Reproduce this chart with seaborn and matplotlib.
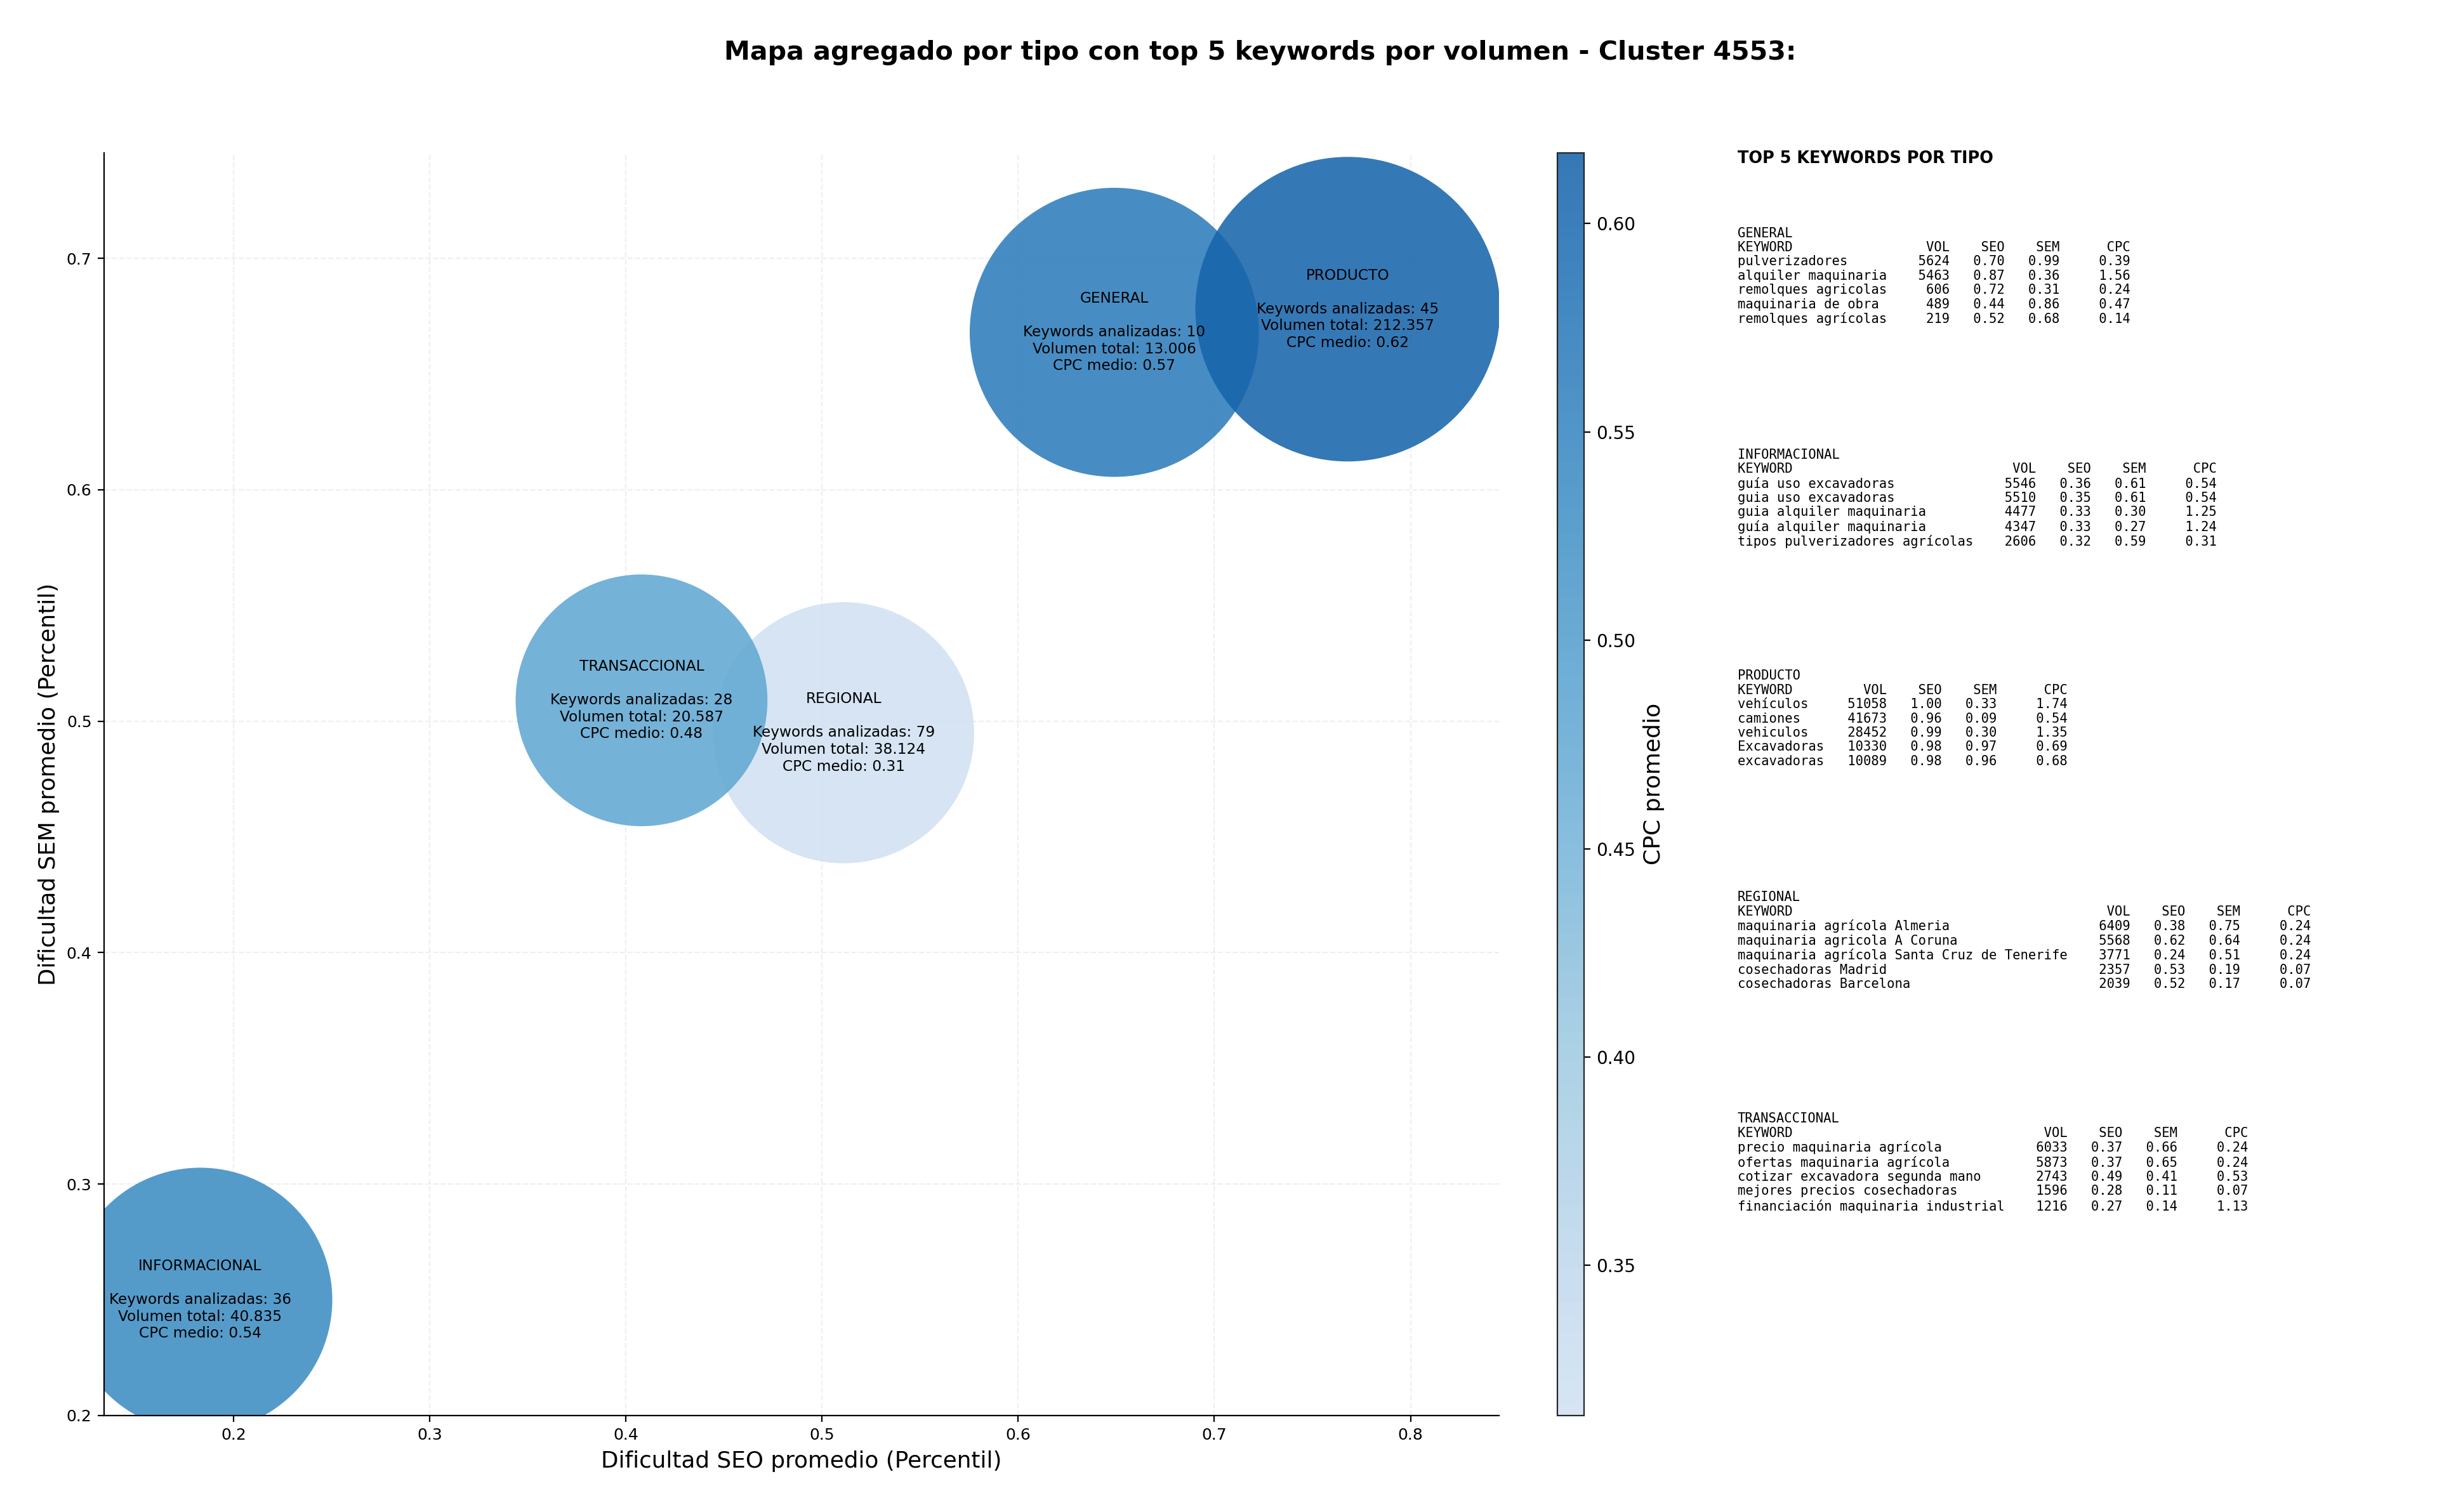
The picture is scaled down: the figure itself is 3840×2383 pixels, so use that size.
import numpy as np
import pandas as pd
import matplotlib
matplotlib.use("Agg")
import matplotlib.pyplot as plt
import matplotlib.colors as mcolors
import seaborn as sns

# aggregated values per keyword type
tipos = ["GENERAL", "INFORMACIONAL", "PRODUCTO", "REGIONAL", "TRANSACCIONAL"]
seo_mean = [0.649, 0.183, 0.768, 0.511, 0.408]
sem_mean = [0.668, 0.250, 0.678, 0.495, 0.509]
cpc_mean = [0.57, 0.54, 0.617, 0.314, 0.48]
n_keywords = [10, 36, 45, 79, 28]
vol_total = [13006, 40835, 212357, 38124, 20587]

# top 5 keywords per type: keyword, vol, seo, sem, cpc
top_general = [
    ("pulverizadores", 5624, 0.70, 0.99, 0.39),
    ("alquiler maquinaria", 5463, 0.87, 0.36, 1.56),
    ("remolques agricolas", 606, 0.72, 0.31, 0.24),
    ("maquinaria de obra", 489, 0.44, 0.86, 0.47),
    ("remolques agrícolas", 219, 0.52, 0.68, 0.14),
]
top_informacional = [
    ("guía uso excavadoras", 5546, 0.36, 0.61, 0.54),
    ("guia uso excavadoras", 5510, 0.35, 0.61, 0.54),
    ("guia alquiler maquinaria", 4477, 0.33, 0.30, 1.25),
    ("guía alquiler maquinaria", 4347, 0.33, 0.27, 1.24),
    ("tipos pulverizadores agrícolas", 2606, 0.32, 0.59, 0.31),
]
top_producto = [
    ("vehículos", 51058, 1.00, 0.33, 1.74),
    ("camiones", 41673, 0.96, 0.09, 0.54),
    ("vehiculos", 28452, 0.99, 0.30, 1.35),
    ("Excavadoras", 10330, 0.98, 0.97, 0.69),
    ("excavadoras", 10089, 0.98, 0.96, 0.68),
]
top_regional = [
    ("maquinaria agrícola Almeria", 6409, 0.38, 0.75, 0.24),
    ("maquinaria agricola A Coruna", 5568, 0.62, 0.64, 0.24),
    ("maquinaria agrícola Santa Cruz de Tenerife", 3771, 0.24, 0.51, 0.24),
    ("cosechadoras Madrid", 2357, 0.53, 0.19, 0.07),
    ("cosechadoras Barcelona", 2039, 0.52, 0.17, 0.07),
]
top_transaccional = [
    ("precio maquinaria agrícola", 6033, 0.37, 0.66, 0.24),
    ("ofertas maquinaria agrícola", 5873, 0.37, 0.65, 0.24),
    ("cotizar excavadora segunda mano", 2743, 0.49, 0.41, 0.53),
    ("mejores precios cosechadoras", 1596, 0.28, 0.11, 0.07),
    ("financiación maquinaria industrial", 1216, 0.27, 0.14, 1.13),
]

# bubble areas (points^2)
bubble_s = {"GENERAL": 26900, "INFORMACIONAL": 22470, "PRODUCTO": 29860,
            "REGIONAL": 21940, "TRANSACCIONAL": 20400}


def fmt_vol(v):
    return f"{v:,}".replace(",", ".")


def keyword_block(name, rows):
    w = max(len(r[0]) for r in rows)
    lines = [name, f"{'KEYWORD':<{w}}  {'VOL':>6} {'SEO':>6} {'SEM':>6} {'CPC':>8}"]
    for kw, vol, seo, sem, cpc in rows:
        lines.append(f"{kw:<{w}}  {vol:>6} {seo:>6.2f} {sem:>6.2f} {cpc:>8.2f}")
    return "\n".join(lines)


def main():
    df = pd.DataFrame({"tipo": tipos, "seo": seo_mean, "sem": sem_mean,
                       "cpc": cpc_mean, "n": n_keywords, "vol": vol_total})

    sns.set_style("white")
    plt.rcParams["font.family"] = ["DejaVu Sans"]
    plt.rcParams["text.color"] = "black"
    plt.rcParams["axes.labelcolor"] = "black"
    plt.rcParams["xtick.color"] = "black"
    plt.rcParams["ytick.color"] = "black"

    cmap = mcolors.LinearSegmentedColormap.from_list(
        "blues_cut", plt.get_cmap("Blues")(np.linspace(0.2, 0.8, 256)))
    vmin, vmax = df.cpc.min(), df.cpc.max()

    fig = plt.figure(figsize=(19.2, 11.915), dpi=200)
    ax = fig.add_axes([0.0427, 0.0638, 0.5723, 0.8352])
    cax = fig.add_axes([0.639, 0.0638, 0.011, 0.8352])

    sns.scatterplot(data=df, x="seo", y="sem", hue="cpc", palette=cmap,
                    hue_norm=(vmin, vmax), size="tipo", sizes=bubble_s,
                    alpha=0.87, linewidth=0, legend=False, ax=ax)

    for _, r in df.iterrows():
        txt = (f"{r['tipo']}\n\nKeywords analizadas: {r['n']}\n"
               f"Volumen total: {fmt_vol(r['vol'])}\nCPC medio: {r['cpc']:.2f}")
        ax.text(r["seo"], r["sem"], txt, ha="center", va="center", fontsize=8.4)

    ax.set_xlim(0.134, 0.845)
    ax.set_ylim(0.2, 0.7456)
    ax.set_xlabel("Dificultad SEO promedio (Percentil)", fontsize=12.9)
    ax.set_ylabel("Dificultad SEM promedio (Percentil)", fontsize=12.9)
    ax.tick_params(labelsize=9, length=3.5, width=0.8, bottom=True, left=True)
    ax.grid(True, linestyle="--", alpha=0.3)
    for sp in ax.spines.values():
        sp.set_color("black")
        sp.set_linewidth(0.8)
    sns.despine(ax=ax)

    sm = plt.cm.ScalarMappable(cmap=cmap, norm=plt.Normalize(vmin, vmax))
    cb = fig.colorbar(sm, cax=cax, alpha=0.87)
    cb.set_label("CPC promedio", fontsize=13)
    cb.ax.tick_params(labelsize=10)

    fig.text(0.517, 0.965, "Mapa agregado por tipo con top 5 keywords por volumen - Cluster 4553:",
             ha="center", va="center", fontsize=14.8, fontweight="bold")

    fig.text(0.713, 0.895, "TOP 5 KEYWORDS POR TIPO", ha="left", va="center",
             fontsize=9.2, fontweight="bold")
    blocks = [("GENERAL", top_general), ("INFORMACIONAL", top_informacional),
              ("PRODUCTO", top_producto), ("REGIONAL", top_regional),
              ("TRANSACCIONAL", top_transaccional)]
    y = 0.8499
    for name, rows in blocks:
        fig.text(0.713, y, keyword_block(name, rows), ha="left", va="top",
                 fontsize=7.4, family="DejaVu Sans Mono", linespacing=1.15)
        y -= 0.1464

    plt.savefig("out.png", dpi=200)
    plt.close()


if __name__ == "__main__":
    main()
